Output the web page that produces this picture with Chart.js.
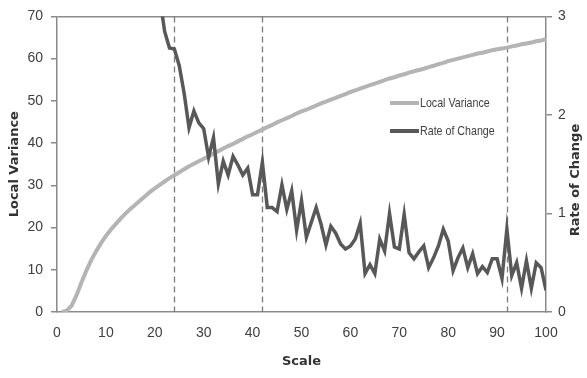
<!DOCTYPE html>
<html>
<head>
<meta charset="utf-8">
<script src="https://cdn.jsdelivr.net/npm/chart.js@4.4.1/dist/chart.umd.min.js"></script>
<style>
  html, body { margin: 0; padding: 0; background: #fff; }
  #wrap { width: 587px; height: 378px; }
</style>
</head>
<body>
<div id="wrap"><canvas id="varianceChart" width="587" height="378"></canvas></div>
<script>
// scale steps (x)
var scaleVals = [1, 2, 3, 4, 5, 6, 7, 8, 9, 10,
    11, 12, 13, 14, 15, 16, 17, 18, 19, 20,
    21, 22, 23, 24, 25, 26, 27, 28, 29, 30,
    31, 32, 33, 34, 35, 36, 37, 38, 39, 40,
    41, 42, 43, 44, 45, 46, 47, 48, 49, 50,
    51, 52, 53, 54, 55, 56, 57, 58, 59, 60,
    61, 62, 63, 64, 65, 66, 67, 68, 69, 70,
    71, 72, 73, 74, 75, 76, 77, 78, 79, 80,
    81, 82, 83, 84, 85, 86, 87, 88, 89, 90,
    91, 92, 93, 94, 95, 96, 97, 98, 99, 100];

// left axis
var localVariance = [0.0, 0.3, 1.5, 4.0, 7.0, 9.8, 12.3, 14.4, 16.3, 18.0,
    19.5, 20.8, 22.1, 23.3, 24.4, 25.4, 26.4, 27.4, 28.4, 29.3,
    30.1, 30.9, 31.7, 32.4, 33.1, 33.8, 34.5, 35.1, 35.7, 36.3,
    36.9, 37.5, 38.1, 38.7, 39.3, 39.8, 40.4, 41.0, 41.6, 42.1,
    42.7, 43.2, 43.8, 44.3, 44.9, 45.4, 45.9, 46.4, 47.0, 47.5,
    47.9, 48.4, 48.9, 49.4, 49.8, 50.3, 50.7, 51.2, 51.6, 52.1,
    52.5, 52.9, 53.3, 53.7, 54.1, 54.5, 54.9, 55.3, 55.6, 56.0,
    56.3, 56.7, 57.0, 57.3, 57.6, 58.0, 58.3, 58.7, 59.0, 59.4,
    59.7, 60.0, 60.3, 60.6, 60.9, 61.2, 61.4, 61.7, 62.0, 62.2,
    62.4, 62.6, 62.9, 63.1, 63.4, 63.6, 63.8, 64.1, 64.3, 64.6];

// right axis (nothing drawn before scale 20)
var rateOfChange = [null, null, null, null, null, null, null, null, null, null,
    null, null, null, null, null, null, null, null, null, 3.6,
    3.2, 2.85, 2.68, 2.67, 2.5, 2.22, 1.87, 2.04, 1.92, 1.86,
    1.57, 1.77, 1.30, 1.53, 1.39, 1.58, 1.49, 1.39, 1.46, 1.19,
    1.19, 1.52, 1.06, 1.06, 1.02, 1.29, 1.04, 1.23, 0.83, 1.13,
    0.76, 0.91, 1.06, 0.89, 0.68, 0.87, 0.80, 0.69, 0.64, 0.67,
    0.74, 0.90, 0.39, 0.48, 0.39, 0.74, 0.62, 1.0, 0.66, 0.64,
    0.99, 0.60, 0.54, 0.61, 0.67, 0.45, 0.55, 0.67, 0.84, 0.72,
    0.42, 0.55, 0.65, 0.45, 0.59, 0.39, 0.46, 0.40, 0.54, 0.54,
    0.34, 0.84, 0.37, 0.50, 0.24, 0.52, 0.24, 0.50, 0.45, 0.22];

// dashed markers
var markerScales = [24, 42, 92];

var tickFont = { family: "'Liberation Sans', sans-serif", size: 14 };
var titleFont = { family: "'DejaVu Sans', sans-serif", size: 13, weight: 'bold' };
var axisGrey = '#8a8a8a';

function toPoints(ys) {
    return scaleVals.map(function(s, i) { return { x: s, y: ys[i] }; });
}

var markerPlugin = {
    id: 'markers',
    beforeDatasetsDraw: function(chart) {
        var ctx = chart.ctx, x = chart.scales.x, area = chart.chartArea;
        ctx.save();
        ctx.strokeStyle = '#7a7a7a';
        ctx.lineWidth = 1.3;
        ctx.setLineDash([6, 4]);
        markerScales.forEach(function(m) {
            var px = Math.round(x.getPixelForValue(m)) + 0.5;
            ctx.beginPath();
            ctx.moveTo(px, area.top);
            ctx.lineTo(px, area.bottom);
            ctx.stroke();
        });
        ctx.restore();
    }
};

// legend inside the plot + right axis title reading bottom-to-top
var extrasPlugin = {
    id: 'extras',
    afterDraw: function(chart) {
        var ctx = chart.ctx;
        var rows = [chart.data.datasets[1], chart.data.datasets[0]];
        ctx.save();
        ctx.textBaseline = 'middle';
        ctx.fillStyle = '#404040';
        rows.forEach(function(ds, i) {
            var y = 103 + i * 28;
            ctx.strokeStyle = ds.borderColor;
            ctx.lineWidth = 4;
            ctx.beginPath();
            ctx.moveTo(390, y);
            ctx.lineTo(419, y);
            ctx.stroke();
            ctx.save();
            ctx.translate(420, y);
            ctx.scale(0.82, 1);
            ctx.font = "13px 'Liberation Sans', sans-serif";
            ctx.fillText(ds.label, 0, 0);
            ctx.restore();
        });

        var area = chart.chartArea;
        ctx.save();
        ctx.translate(576, 180);
        ctx.rotate(-Math.PI / 2);
        ctx.font = "bold 13px 'DejaVu Sans', sans-serif";
        ctx.fillStyle = '#333';
        ctx.textAlign = 'center';
        ctx.fillText('Rate of Change', 0, 0);
        ctx.restore();
        ctx.restore();
    }
};

var varianceChart = new Chart(document.getElementById('varianceChart'), {
    type: 'line',
    data: {
        datasets: [{
            label: 'Rate of Change',
            data: toPoints(rateOfChange),
            yAxisID: 'y2',
            borderColor: '#585858',
            borderWidth: 3.5,
            pointRadius: 0,
            tension: 0,
            order: 1
        }, {
            label: 'Local Variance',
            data: toPoints(localVariance),
            yAxisID: 'y',
            borderColor: '#b4b4b4',
            borderWidth: 4,
            pointRadius: 0,
            tension: 0,
            order: 2
        }]
    },
    options: {
        responsive: false,
        animation: false,
        devicePixelRatio: 1,
        layout: { padding: { top: 12, left: 0, right: 0, bottom: 0 } },
        plugins: {
            legend: { display: false },
            tooltip: { enabled: false }
        },
        scales: {
            x: {
                type: 'linear',
                min: 0,
                max: 100,
                afterFit: function(s) { s.height = 66; },
                ticks: { stepSize: 10, color: '#404040', font: tickFont, padding: 13, maxRotation: 0 },
                grid: { display: true, drawOnChartArea: false, drawTicks: false },
                border: { display: true, color: axisGrey, width: 1.5 },
                title: { display: true, text: 'Scale', color: '#333', font: titleFont, padding: { top: 0, bottom: 9 } }
            },
            y: {
                position: 'left',
                min: 0,
                max: 70,
                afterFit: function(s) { s.width = 57; },
                ticks: { stepSize: 10, color: '#404040', font: tickFont, padding: 8 },
                grid: {
                    color: function(c) { return c.tick && c.tick.value === 70 ? axisGrey : 'rgba(0,0,0,0)'; },
                    tickColor: axisGrey,
                    tickLength: 6,
                    lineWidth: 1.5
                },
                border: { display: true, color: axisGrey, width: 1.5 },
                title: { display: true, text: 'Local Variance', color: '#333', font: titleFont, padding: { top: 7, bottom: 0 } }
            },
            y2: {
                position: 'right',
                min: 0,
                max: 3,
                afterFit: function(s) { s.width = 41; },
                ticks: { stepSize: 1, color: '#404040', font: tickFont, padding: 6 },
                grid: { drawOnChartArea: false, tickColor: axisGrey, tickLength: 6, lineWidth: 1.5 },
                border: { display: true, color: axisGrey, width: 1.5 },
                title: { display: false }
            }
        }
    },
    plugins: [markerPlugin, extrasPlugin]
});
</script>
</body>
</html>
